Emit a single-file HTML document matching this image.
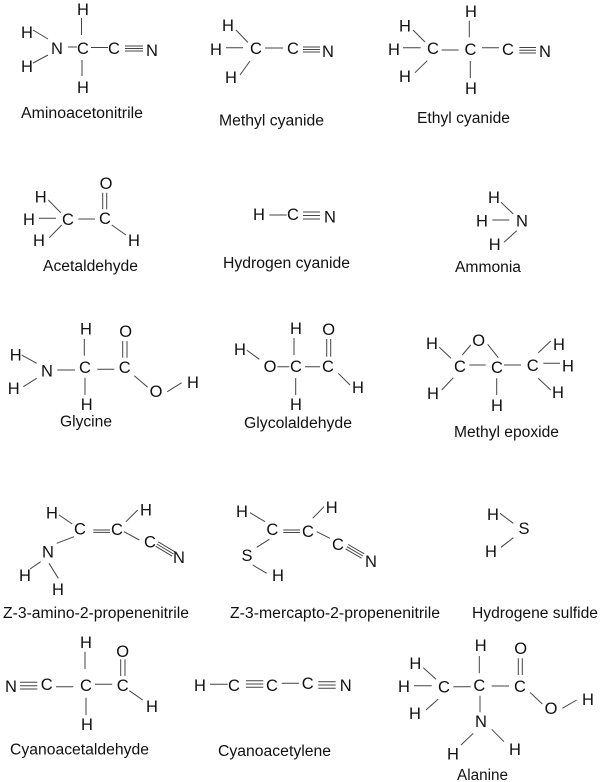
<!DOCTYPE html>
<html lang="en">
<head>
<meta charset="utf-8">
<title>Molecules</title>
<style>
html,body{margin:0;padding:0;background:#fff;width:600px;height:782px;overflow:hidden}
svg{display:block}
text{font-family:"Liberation Sans",Arial,sans-serif;fill:#111}
.a text{font-size:16.5px;text-anchor:middle}
.l text{font-size:15.5px}
.b path{stroke:#444;stroke-width:1;fill:none}
</style>
</head>
<body>
<svg width="600" height="782" viewBox="0 0 600 782" xmlns="http://www.w3.org/2000/svg">
<g class="b"><path d="
M81.5 18V35M33 30L48 39M68 47H77M91 47.5H108M125 46H143M125 48.5H143M125 51H143M33 63L48 55M82 60V76
M236 30L248 42.5M226 47.7H243M265 48H283M240 75L250 61M303 47H320M303 49.5H320M303 52H320
M413 30L425 42M403 47.7H420.7M441.7 50H458.7M415 72.7L427.3 60.7M469.3 20.7V37.3M470.3 61V78M482 47.7H499M519.3 47.5H536M519.3 50.2H536M519.3 53H536
M48.3 200L60.7 212.7M39 218.3H56M49.3 237.7L61.7 225M78.3 219H95M102.7 192.7V209.3M106.7 192.7V209.3M111.7 225L126 235
M269.3 215H286.7M303 212H320M303 215.5H320M303 219H320
M501 202.3L513.3 214M492.3 220H509.3M504 242.3L516.7 230.7
M84.3 339V355.7M122.7 341V357.7M127 341V357.7M21.7 355L36.7 363.3M57.3 370H75M97.3 369.3H114.3M23.3 386.7L36.7 378.3M85 377.7V395M134.3 375.7L147.7 387.3M167.3 391.7L181.7 382.7
M246.7 350L259.3 359.3M277.3 366.7H289.3M305 366.7H320M294 338V355M295.7 378V395M326.7 339V356.7M330.7 339V356.7M338.3 373.3L350 385
M439.3 347.3L451 358.3M462.3 355L470.7 345M487.7 344.3L498.3 357.7M469.3 365H485.7M504 365H521M538.3 352.7L550.7 341M543.3 363.3H560M538.3 378.3L550.7 390M441.7 390L453.3 377.7M496.7 378.3V395
M59 515L72.3 524M126 521.7L137.7 510M93.3 530H110M93.3 532.4H110M124 531.7L139.3 540M155.6 546.2L172.2 556.2M156.9 544L173.5 554M158.2 541.8L174.8 551.8M56.7 543.3L74 536.7M30 569L40.7 561.7M49 563.3L58.3 578.3
M250 512.7L265 521.7M283.3 530H300M283.3 532.5H300M312.7 518.3L324 506.7M316.7 531.7L330 538.3M345.6 548.9L361.6 558.2M346.9 546.7L362.9 556M348.2 544.5L364.2 553.8M256.7 547.3L269.3 539.3M252.7 565L266.7 573.3
M500 513.3L513.3 523.3M501 547.3L513.3 537.7
M20 682.3H37.3M20 685.7H37.3M20 689H37.3M56 686.7H73.3M95 684.3H112.3M85 651.7V669M86 697.7V715M120.7 659.3V676M125 659.3V676M129.3 690.7L142.7 700
M210 684.3H227.7M246 680.7H263.3M246 684H263.3M246 687.3H263.3M281.7 683.3H299M318.3 681.7H335.7M318.3 685H335.7M318.3 688.3H335.7
M423.3 667.7L436 679.3M414 685.7H431.7M426 710L438.3 699M453.3 686.7H470.7M479.3 656V673.3M491.7 686H509M518.3 658.3V675M522.3 658.3V675M530 692.3L542.3 704M562.3 708.3L576.7 700M480 695.7V712.3M461 745L473.3 733.3M491.7 729.3L504 741.7
"/></g>
<g class="a" transform="translate(0,0.5)">
<text x="83" y="14.5">H</text><text x="27" y="37.5">H</text><text x="57" y="53.5">N</text><text x="83" y="53.5">C</text><text x="114" y="53.5">C</text><text x="152" y="55.5">N</text><text x="27" y="71.5">H</text><text x="83" y="92.5">H</text>
<text x="228" y="30.5">H</text><text x="216" y="54.5">H</text><text x="256" y="53.5">C</text><text x="293" y="53.5">C</text><text x="231" y="82.5">H</text><text x="328" y="56.5">N</text>
<text x="405" y="31">H</text><text x="394" y="54.5">H</text><text x="433" y="53.5">C</text><text x="470.5" y="54.5">C</text><text x="471" y="16.5">H</text><text x="508" y="54.5">C</text><text x="545" y="56.5">N</text><text x="405" y="81.5">H</text><text x="471" y="93.5">H</text>
<text x="106" y="188.5">O</text><text x="40.7" y="202">H</text><text x="29" y="224.5">H</text><text x="68" y="224.5">C</text><text x="105" y="223.5">C</text><text x="39" y="245.5">H</text><text x="134" y="245.5">H</text>
<text x="259" y="219.5">H</text><text x="293" y="219.5">C</text><text x="330" y="222">N</text>
<text x="494" y="202.5">H</text><text x="482" y="226">H</text><text x="522" y="226">N</text><text x="494.7" y="249.5">H</text>
<text x="86" y="334">H</text><text x="125.7" y="336.5">O</text><text x="15.7" y="360">H</text><text x="47" y="376">N</text><text x="85" y="372.5">C</text><text x="124.7" y="372.5">C</text><text x="13.7" y="393.5">H</text><text x="156" y="396.5">O</text><text x="193" y="387.5">H</text><text x="86.7" y="409.5">H</text>
<text x="240" y="354.5">H</text><text x="270" y="371.5">O</text><text x="296" y="371.5">C</text><text x="296" y="333.5">H</text><text x="296" y="409.5">H</text><text x="328.7" y="334.5">O</text><text x="328" y="371.5">C</text><text x="358" y="392.5">H</text>
<text x="432" y="348.5">H</text><text x="478.7" y="345.5">O</text><text x="559" y="349.5">H</text><text x="460" y="371.5">C</text><text x="497" y="372.5">C</text><text x="532.7" y="370.5">C</text><text x="568" y="371">H</text><text x="433" y="398.5">H</text><text x="558" y="397.5">H</text><text x="497" y="410.5">H</text>
<text x="52" y="518">H</text><text x="146" y="515">H</text><text x="80" y="534">C</text><text x="117" y="534.5">C</text><text x="150" y="547">C</text><text x="179" y="562.5">N</text><text x="48" y="557">N</text><text x="25" y="580.5">H</text><text x="58" y="594.5">H</text>
<text x="242" y="516.5">H</text><text x="331.7" y="512.5">H</text><text x="272.3" y="534.5">C</text><text x="308" y="536.5">C</text><text x="338" y="549.5">C</text><text x="371" y="566.5">N</text><text x="247" y="560.5">S</text><text x="278" y="580.5">H</text>
<text x="493" y="519.5">H</text><text x="524" y="533.5">S</text><text x="491" y="556.5">H</text>
<text x="86" y="647.5">H</text><text x="122.7" y="656.5">O</text><text x="11" y="691.5">N</text><text x="46.7" y="689.5">C</text><text x="86" y="690.5">C</text><text x="122.7" y="690.5">C</text><text x="152" y="711.5">H</text><text x="87" y="729.5">H</text>
<text x="200" y="690.5">H</text><text x="234" y="690.5">C</text><text x="272" y="690.5">C</text><text x="307.7" y="688.5">C</text><text x="345.7" y="690.5">N</text>
<text x="415.3" y="668.5">H</text><text x="480.7" y="650.5">H</text><text x="520.7" y="653.5">O</text><text x="404" y="691.5">H</text><text x="444" y="692">C</text><text x="479.3" y="690.5">C</text><text x="520" y="691.5">C</text><text x="415" y="718.5">H</text><text x="551" y="713.5">O</text><text x="588" y="704.5">H</text><text x="481" y="726.5">N</text><text x="453" y="759">H</text><text x="515" y="754.5">H</text>
</g>
<g class="l">
<text x="21" y="118" textLength="122" lengthAdjust="spacingAndGlyphs">Aminoacetonitrile</text>
<text x="219" y="125.5" textLength="105" lengthAdjust="spacingAndGlyphs">Methyl cyanide</text>
<text x="417" y="123" textLength="93" lengthAdjust="spacingAndGlyphs">Ethyl cyanide</text>
<text x="43" y="271" textLength="95" lengthAdjust="spacingAndGlyphs">Acetaldehyde</text>
<text x="223" y="268" textLength="127" lengthAdjust="spacingAndGlyphs">Hydrogen cyanide</text>
<text x="455" y="272" textLength="66" lengthAdjust="spacingAndGlyphs">Ammonia</text>
<text x="60" y="426.5" textLength="52" lengthAdjust="spacingAndGlyphs">Glycine</text>
<text x="244" y="428" textLength="108" lengthAdjust="spacingAndGlyphs">Glycolaldehyde</text>
<text x="454" y="437" textLength="105" lengthAdjust="spacingAndGlyphs">Methyl epoxide</text>
<text x="3" y="618" textLength="186" lengthAdjust="spacingAndGlyphs">Z-3-amino-2-propenenitrile</text>
<text x="230" y="618" textLength="210" lengthAdjust="spacingAndGlyphs">Z-3-mercapto-2-propenenitrile</text>
<text x="472" y="618" textLength="126" lengthAdjust="spacingAndGlyphs">Hydrogene sulfide</text>
<text x="10" y="754.5" textLength="139" lengthAdjust="spacingAndGlyphs">Cyanoacetaldehyde</text>
<text x="218" y="756" textLength="113" lengthAdjust="spacingAndGlyphs">Cyanoacetylene</text>
<text x="457" y="780" textLength="51" lengthAdjust="spacingAndGlyphs">Alanine</text>
</g>
</svg>
</body>
</html>
